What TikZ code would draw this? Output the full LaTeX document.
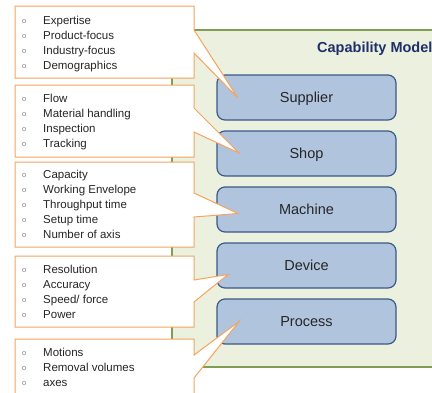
\documentclass[tikz,border=0pt]{standalone}
\usepackage{fontspec}
\setmainfont{Liberation Sans}
\usetikzlibrary{positioning,calc}

\definecolor{panelfill}{HTML}{EBF1DE}
\definecolor{panelline}{HTML}{7F9F4F}
\definecolor{tierfill}{HTML}{B0C4DE}
\definecolor{tierline}{HTML}{3B5A85}
\definecolor{noteline}{HTML}{F5A45F}
\definecolor{titleblue}{HTML}{1F2F6B}
\definecolor{textgray}{HTML}{262626}
\definecolor{bulletgray}{HTML}{808080}

\newcommand{\bul}{\makebox[21pt][l]{\textcolor{bulletgray}{\fontsize{7.5}{7.5}\selectfont\raisebox{1.2pt}{o}}}}

\begin{document}
\begin{tikzpicture}[x=1pt, y=-1pt, node distance=11pt,
    tierbox/.style = {draw=tierline, line width=1.2pt, fill=tierfill, rounded corners=8pt,
        minimum width=179pt, minimum height=45pt, outer sep=0pt,
        text height=10.4pt, text depth=0pt, text=textgray, font=\fontsize{14.5}{17}\selectfont},
    notebox/.style = {draw=noteline, line width=1pt, fill=white, line join=miter},
    notetext/.style = {anchor=north west, inner sep=0pt, align=left, text=textgray,
        font=\fontsize{11.5}{15}\selectfont}]
    \useasboundingbox (0,0) rectangle (432,392);

    % model panel
    \fill[panelfill] (172,30) rectangle (445,367);
    \draw[panelline, line width=1.5pt] (445,30) -- (172,30) -- (172,367) -- (445,367);
    \node[anchor=base west, inner sep=0pt, text=titleblue, font=\fontsize{14.5}{17}\selectfont\bfseries] (title) at (317,52.5) {Capability Model};

    % levels
    \node[tierbox] (supplier) at (306.5,97.5) {Supplier};
    \node[tierbox] (shop) [below=of supplier] {Shop};
    \node[tierbox] (machine) [below=of shop] {Machine};
    \node[tierbox] (device) [below=of machine] {Device};
    \node[tierbox] (process) [below=of device] {Process};

    % pointer tips
    \coordinate (t1) at ($(supplier.west)+(21,0.5)$);
    \coordinate (t2) at ($(shop.west)+(22,-0.5)$);
    \coordinate (t3) at ($(machine.west)+(21,4)$);
    \coordinate (t4) at ($(device.west)+(11,9)$);
    \coordinate (t5) at ($(process.west)+(22,0)$);

    % callouts
    \draw[notebox] (15,6) -- (194,6) -- (194,30) -- (t1) -- (194,53) -- (194,78) -- (15,78) -- cycle;
    \draw[notebox] (15,85) -- (194,85) -- (194,108) -- (t2) -- (194,132) -- (194,157) -- (15,157) -- cycle;
    \draw[notebox] (15,162) -- (194,162) -- (194,193) -- (t3) -- (194,217) -- (194,247) -- (15,247) -- cycle;
    \draw[notebox] (15,256) -- (194,256) -- (194,280) -- (t4) -- (194,302) -- (194,327) -- (15,327) -- cycle;
    \draw[notebox] (15,339) -- (194,339) -- (194,355) -- (t5) -- (194,378) -- (194,400) -- (15,400) -- cycle;

    \node[notetext] (supplierlist) at (22,15.8) {\bul Expertise\\ \bul Product-focus\\ \bul Industry-focus\\ \bul Demographics};
    \node[notetext] (shoplist) at (22,93.8) {\bul Flow\\ \bul Material handling\\ \bul Inspection\\ \bul Tracking};
    \node[notetext] (machinelist) at (22,169.8) {\bul Capacity\\ \bul Working Envelope\\ \bul Throughput time\\ \bul Setup time\\ \bul Number of axis};
    \node[notetext] (devicelist) at (22,264.8) {\bul Resolution\\ \bul Accuracy\\ \bul Speed/ force\\ \bul Power};
    \node[notetext] (processlist) at (22,347.8) {\bul Motions\\ \bul Removal volumes\\ \bul axes};
\end{tikzpicture}
\end{document}
